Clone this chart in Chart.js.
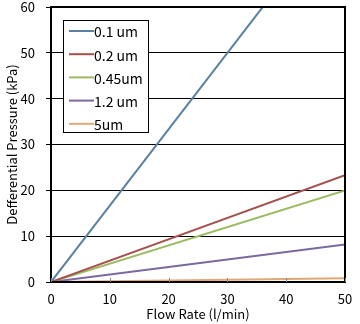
<!DOCTYPE html>
<html>
<head>
<meta charset="utf-8">
<script src="https://cdn.jsdelivr.net/npm/chart.js@4.4.1/dist/chart.umd.min.js"></script>
<style>
  html, body { margin: 0; padding: 0; background: #fff; }
  #wrap { width: 360px; height: 324px; }
</style>
</head>
<body>
<div id="wrap"><canvas id="chart" width="360" height="324"></canvas></div>
<script>
// flow rate (l/min) at which each value was read
var flowRates = [0, 50];
var series = ["0.1 um", "0.2 um", "0.45um", "1.2 um", "5um"];
var p01 = [0, 83.3];   // leaves the top of the plot around 36 l/min
var p02 = [0, 23.3];
var p045 = [0, 20.0];
var p12 = [0, 8.2];
var p5 = [0, 0.8];
var colors = ["#5b80a3", "#a6504c", "#9dba62", "#7d67a0", "#e0a874"];

var yTicks = [0, 10, 20, 30, 40, 50, 60];
var xTicks = [0, 10, 20, 30, 40, 50];

var FONT = "'Noto Sans CJK JP', 'Liberation Sans', sans-serif";

function pts(vals){
    return vals.map(function(v, i){ return {x: flowRates[i], y: v}; });
}
var allVals = [p01, p02, p045, p12, p5];
var datasets = allVals.map(function(vals, i){
    return {
        label: series[i],
        data: pts(vals),
        borderColor: colors[i],
        backgroundColor: colors[i],
        borderWidth: 2,
        pointRadius: 0,
        fill: false,
        tension: 0
    };
});

// legend box drawn inside the plot, upper left
var boxLegend = {
    id: 'boxLegend',
    afterDraw: function(chart){
        var ctx = chart.ctx;
        var x0 = 63.5, y0 = 20.5, w = 85, h = 112;
        ctx.save();
        ctx.fillStyle = '#fff';
        ctx.fillRect(x0, y0, w, h);
        ctx.strokeStyle = '#000';
        ctx.lineWidth = 1;
        ctx.strokeRect(x0, y0, w, h);
        ctx.font = '14px ' + FONT;
        ctx.textBaseline = 'middle';
        chart.data.datasets.forEach(function(ds, i){
            var y = 31 + i * 23.2;
            ctx.strokeStyle = ds.borderColor;
            ctx.lineWidth = 2;
            ctx.beginPath();
            ctx.moveTo(69, y);
            ctx.lineTo(94, y);
            ctx.stroke();
            ctx.fillStyle = '#000';
            ctx.fillText(ds.label, 94, y + 1);
        });
        ctx.restore();
    }
};

// frame around the plot area
var frame = {
    id: 'frame',
    afterDatasetsDraw: function(chart){
        var a = chart.chartArea, ctx = chart.ctx;
        ctx.save();
        ctx.strokeStyle = '#000';
        ctx.lineWidth = 2;
        ctx.strokeRect(a.left, a.top, a.right - a.left, a.bottom - a.top);
        // small inner ticks on the x axis
        ctx.lineWidth = 1;
        ctx.strokeStyle = '#888';
        xTicks.forEach(function(t){
            var px = Math.round(chart.scales.x.getPixelForValue(t)) + 0.5;
            ctx.beginPath();
            ctx.moveTo(px, a.bottom);
            ctx.lineTo(px, a.bottom - 4);
            ctx.stroke();
        });
        ctx.restore();
    }
};

var ctx = document.getElementById('chart').getContext('2d');
var chart = new Chart(ctx, {
    type: 'line',
    data: { datasets: datasets },
    plugins: [frame, boxLegend],
    options: {
        responsive: false,
        animation: false,
        layout: { padding: { top: 7, right: 15, left: 0, bottom: 0 } },
        plugins: {
            legend: { display: false },
            tooltip: { enabled: false }
        },
        scales: {
            x: {
                type: 'linear',
                min: 0,
                max: 50,
                afterBuildTicks: function(axis){
                    axis.ticks = xTicks.map(function(v){ return {value: v}; });
                },
                afterFit: function(axis){
                    axis.height = 42;
                    axis.paddingLeft = 0;
                    axis.paddingRight = 0;
                },
                grid: { display: false, drawTicks: false },
                border: { display: false },
                ticks: {
                    color: '#000',
                    padding: 9,
                    maxRotation: 0,
                    font: { family: FONT, size: 13 }
                },
                title: {
                    display: true,
                    text: 'Flow Rate (l/min)',
                    color: '#000',
                    padding: { top: 0, bottom: 2 },
                    font: { family: FONT, size: 13 }
                }
            },
            y: {
                type: 'linear',
                min: 0,
                max: 60,
                afterBuildTicks: function(axis){
                    axis.ticks = yTicks.map(function(v){ return {value: v}; });
                },
                afterFit: function(axis){
                    axis.width = 51;
                    axis.paddingTop = 0;
                    axis.paddingBottom = 0;
                },
                grid: {
                    color: '#000',
                    lineWidth: 1,
                    drawTicks: true,
                    tickLength: 5
                },
                border: { display: false },
                ticks: {
                    color: '#000',
                    padding: 11,
                    font: { family: FONT, size: 13 }
                },
                title: {
                    display: true,
                    text: 'Defferential Pressure (kPa)',
                    color: '#000',
                    padding: { top: 4, bottom: 0 },
                    font: { family: FONT, size: 13 }
                }
            }
        }
    }
});
</script>
</body>
</html>
